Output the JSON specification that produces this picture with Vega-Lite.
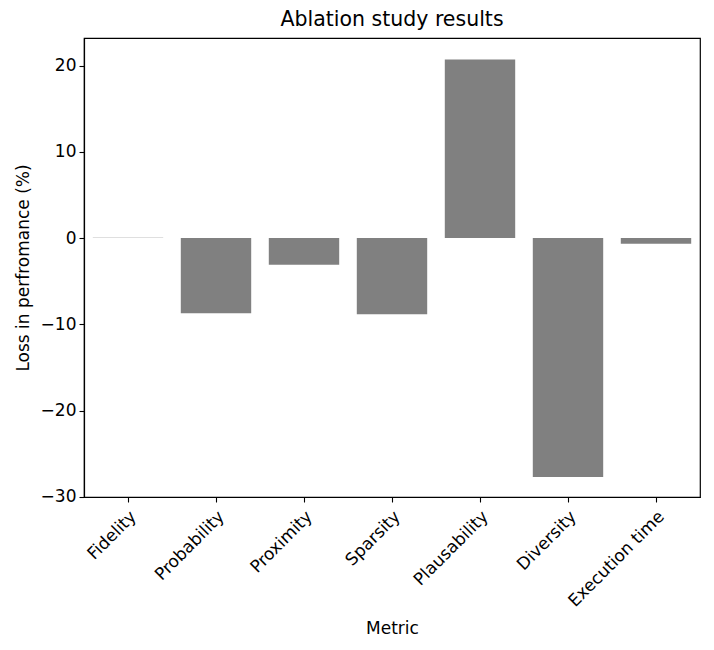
{
  "$schema": "https://vega.github.io/schema/vega-lite/v6.json",
  "width": 616,
  "height": 459,
  "autosize": {"type": "none"},
  "padding": {"left": 84, "top": 38, "right": 14, "bottom": 153},
  "background": "white",
  "title": {
    "text": "Ablation study results",
    "font": "DejaVu Sans",
    "fontSize": 20.5,
    "fontWeight": "normal",
    "color": "black",
    "offset": 8
  },
  "config": {
    "view": {"stroke": "black", "strokeWidth": 1.2},
    "axis": {
      "labelFont": "DejaVu Sans",
      "titleFont": "DejaVu Sans",
      "labelFontSize": 17,
      "titleFontSize": 17,
      "titleFontWeight": "normal",
      "labelColor": "black",
      "titleColor": "black",
      "tickColor": "black",
      "domainColor": "black",
      "tickSize": 5,
      "tickWidth": 1.1,
      "domainWidth": 1.2,
      "grid": false
    }
  },
  "data": {
    "values": [
      {"metric": "Fidelity", "loss": 0.03},
      {"metric": "Probability", "loss": -8.72},
      {"metric": "Proximity", "loss": -3.09},
      {"metric": "Sparsity", "loss": -8.84},
      {"metric": "Plausability", "loss": 20.7},
      {"metric": "Diversity", "loss": -27.7},
      {"metric": "Execution time", "loss": -0.65}
    ]
  },
  "mark": {"type": "bar", "color": "#808080"},
  "encoding": {
    "x": {
      "field": "metric",
      "type": "nominal",
      "sort": null,
      "scale": {"paddingInner": 0.2, "paddingOuter": 0.1},
      "axis": {
        "title": "Metric",
        "labelAngle": -45,
        "labelAlign": "right",
        "labelBaseline": "top",
        "labelPadding": 6,
        "titleY": 136,
        "titleBaseline": "alphabetic"
      }
    },
    "y": {
      "field": "loss",
      "type": "quantitative",
      "scale": {"domain": [-30.02, 23.2], "nice": false, "zero": false},
      "axis": {
        "title": "Loss in perfromance (%)",
        "values": [-30, -20, -10, 0, 10, 20],
        "labelPadding": 3,
        "titlePadding": 8
      }
    }
  }
}
